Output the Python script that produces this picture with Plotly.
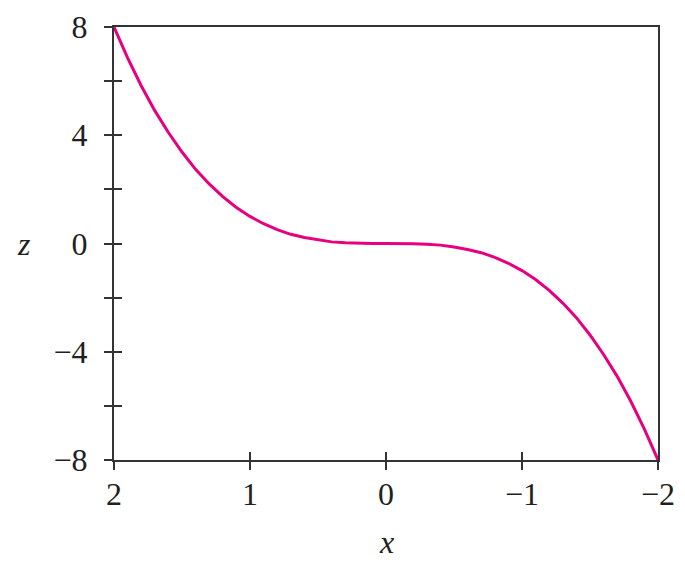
import plotly.graph_objects as go

# Data
x_vals = [2.0, 1.9, 1.8, 1.7, 1.6, 1.5, 1.4, 1.3, 1.2, 1.1, 1.0, 0.9, 0.8, 0.7, 0.6, 0.5, 0.4, 0.3, 0.2, 0.1, 0.0,
          -0.1, -0.2, -0.3, -0.4, -0.5, -0.6, -0.7, -0.8, -0.9, -1.0, -1.1, -1.2, -1.3, -1.4, -1.5, -1.6, -1.7, -1.8, -1.9, -2.0]
z_vals = [8.00, 6.86, 5.83, 4.91, 4.10, 3.38, 2.74, 2.20, 1.73, 1.33, 1.00, 0.73, 0.51, 0.34, 0.22, 0.13, 0.06, 0.03, 0.01, 0.00, 0.00,
          -0.00, -0.01, -0.03, -0.06, -0.13, -0.22, -0.34, -0.51, -0.73, -1.00, -1.33, -1.73, -2.20, -2.74, -3.38, -4.10, -4.91, -5.83, -6.86, -8.00]
x_ticks = [2, 1, 0, -1, -2]
x_ticktext = ["2", "1", "0", "\u22121", "\u22122"]
y_ticks = [-8, -4, 0, 4, 8]
y_ticktext = ["\u22128", "\u22124", "0", "4", "8"]

axis_col = "#333333"
font = dict(family="Times New Roman, Liberation Serif, Times, serif", size=32, color="#231f20")

fig = go.Figure()
fig.add_trace(go.Scatter(x=x_vals, y=z_vals, mode="lines",
                         line=dict(color="#E6007E", width=3), showlegend=False))
# invisible trace to activate secondary axes
fig.add_trace(go.Scatter(x=[x_vals[0]], y=[z_vals[0]], xaxis="x2", yaxis="y2",
                         mode="markers", marker=dict(opacity=0), showlegend=False, hoverinfo="skip"))

fig.update_layout(
    width=677, height=558,
    margin=dict(l=106, r=27, t=19, b=106, autoexpand=False),
    paper_bgcolor="white", plot_bgcolor="white",
    font=font,
    xaxis=dict(range=[2, -2], tickvals=x_ticks, ticktext=x_ticktext, automargin=False,
               ticks="outside", ticklen=8, tickwidth=2, tickcolor=axis_col,
               showline=True, linecolor=axis_col, linewidth=2, mirror=True,
               showgrid=False, zeroline=False, tickfont=font, ticklabelstandoff=-3),
    yaxis=dict(range=[-8, 8], tickvals=y_ticks, ticktext=y_ticktext, automargin=False,
               ticks="outside", ticklen=8, tickwidth=2, tickcolor=axis_col,
               minor=dict(dtick=2, tick0=0, ticks="outside", ticklen=8, tickwidth=2, tickcolor=axis_col),
               showline=True, linecolor=axis_col, linewidth=2, mirror=True,
               showgrid=False, zeroline=False, tickfont=font, ticklabelstandoff=10),
    xaxis2=dict(range=[2, -2], overlaying="x", tickvals=x_ticks, showticklabels=False, automargin=False,
                ticks="inside", ticklen=8, tickwidth=2, tickcolor=axis_col,
                showline=False, showgrid=False, zeroline=False),
    yaxis2=dict(range=[-8, 8], overlaying="y", tickvals=y_ticks, showticklabels=False, automargin=False,
                ticks="inside", ticklen=8, tickwidth=2, tickcolor=axis_col,
                minor=dict(dtick=2, tick0=0, ticks="inside", ticklen=8, tickwidth=2, tickcolor=axis_col),
                showline=False, showgrid=False, zeroline=False),
    annotations=[
        dict(text="<i>x</i>", xref="paper", yref="paper", x=0.5, y=-0.19,
             showarrow=False, font=font, xanchor="center", yanchor="middle"),
        dict(text="<i>z</i>", xref="paper", yref="paper", x=-0.165, y=0.5,
             showarrow=False, font=font, xanchor="center", yanchor="middle"),
    ],
)

fig.write_html("out.html")
